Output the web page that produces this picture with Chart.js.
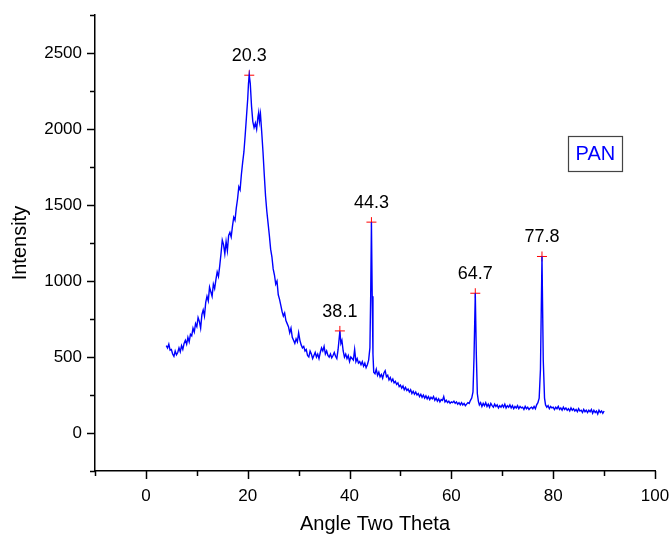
<!DOCTYPE html>
<html>
<head>
<meta charset="utf-8">
<title>PAN XRD</title>
<script src="https://cdn.jsdelivr.net/npm/chart.js@4.4.1/dist/chart.umd.min.js"></script>
<style>
    html, body { margin: 0; padding: 0; background: #fff; }
    #wrap { width: 669px; height: 536px; }
</style>
</head>
<body>
<div id="wrap"><canvas id="xrdChart" width="669" height="536"></canvas></div>
<script>
// diffraction pattern
const angles = [
    4.0, 4.25, 4.5, 4.75, 5.0, 5.25, 5.5, 5.75, 6.0, 6.25, 6.5, 6.75, 7.0, 7.25, 7.5, 7.75,
    8.0, 8.25, 8.5, 8.75, 9.0, 9.25, 9.5, 9.75, 10.0, 10.25, 10.5, 10.75, 11.0, 11.25, 11.5, 11.75,
    12.0, 12.25, 12.5, 12.75, 13.0, 13.25, 13.5, 13.75, 14.0, 14.25, 14.5, 14.75, 15.0, 15.25, 15.5, 15.75,
    16.0, 16.25, 16.5, 16.75, 17.0, 17.25, 17.5, 17.75, 18.0, 18.25, 18.5, 18.75, 19.0, 19.25, 19.5, 19.75,
    20.0, 20.15, 20.3, 20.5, 20.75, 21.0, 21.25, 21.5, 21.75, 22.0, 22.15, 22.3, 22.5, 22.75,
    23.0, 23.25, 23.5, 23.75, 24.0, 24.25, 24.5, 24.75, 25.0, 25.25, 25.5, 25.75,
    26.0, 26.25, 26.5, 26.75, 27.0, 27.25, 27.5, 27.75, 28.0, 28.25, 28.5, 28.75, 29.0, 29.25, 29.5, 29.75,
    30.0, 30.25, 30.5, 30.75, 31.0, 31.25, 31.5, 31.75, 32.0, 32.25, 32.5, 32.75, 33.0, 33.25, 33.5, 33.75,
    34.0, 34.25, 34.5, 34.75, 35.0, 35.25, 35.5, 35.75, 36.0, 36.25, 36.5, 36.75, 37.0, 37.25, 37.5, 37.75,
    38.1, 38.3, 38.5, 38.75, 39.0, 39.25, 39.5, 39.75, 40.0, 40.25, 40.5, 40.75, 41.0, 41.25, 41.5, 41.75,
    42.0, 42.25, 42.5, 42.75, 43.0, 43.25, 43.5, 43.75, 44.0, 44.15, 44.3, 44.45, 44.6, 44.75,
    45.0, 45.25, 45.5, 45.75, 46.0, 46.25, 46.5, 46.75, 47.0, 47.25, 47.5, 47.75,
    48.0, 48.25, 48.5, 48.75, 49.0, 49.25, 49.5, 49.75, 50.0, 50.25, 50.5, 50.75, 51.0, 51.25, 51.5, 51.75,
    52.0, 52.25, 52.5, 52.75, 53.0, 53.25, 53.5, 53.75, 54.0, 54.25, 54.5, 54.75, 55.0, 55.25, 55.5, 55.75,
    56.0, 56.25, 56.5, 56.75, 57.0, 57.25, 57.5, 57.75, 58.0, 58.25, 58.5, 58.75, 59.0, 59.25, 59.5, 59.75,
    60.0, 60.25, 60.5, 60.75, 61.0, 61.25, 61.5, 61.75, 62.0, 62.25, 62.5, 62.75, 63.0, 63.25, 63.5, 63.75,
    64.0, 64.25, 64.45, 64.7, 64.9, 65.1, 65.3, 65.5, 65.75,
    66.0, 66.25, 66.5, 66.75, 67.0, 67.25, 67.5, 67.75, 68.0, 68.25, 68.5, 68.75, 69.0, 69.25, 69.5, 69.75,
    70.0, 70.25, 70.5, 70.75, 71.0, 71.25, 71.5, 71.75, 72.0, 72.25, 72.5, 72.75, 73.0, 73.25, 73.5, 73.75,
    74.0, 74.25, 74.5, 74.75, 75.0, 75.25, 75.5, 75.75, 76.0, 76.25, 76.5, 76.75, 77.0, 77.25, 77.5, 77.8,
    78.05, 78.3, 78.5, 78.75, 79.0, 79.25, 79.5, 79.75, 80.0, 80.25, 80.5, 80.75, 81.0, 81.25, 81.5, 81.75,
    82.0, 82.25, 82.5, 82.75, 83.0, 83.25, 83.5, 83.75, 84.0, 84.25, 84.5, 84.75, 85.0, 85.25, 85.5, 85.75,
    86.0, 86.25, 86.5, 86.75, 87.0, 87.25, 87.5, 87.75, 88.0, 88.25, 88.5, 88.75, 89.0, 89.25, 89.5, 89.75, 90.0
];
const intensity = [
    575, 560, 585, 545, 550, 520, 505, 540, 515, 530, 560, 535, 575, 550, 590, 610,
    585, 630, 600, 650, 640, 690, 665, 720, 700, 760, 735, 690, 780, 810, 770, 860,
    900, 870, 960, 930, 900, 980, 950, 1010, 1060, 1030, 1100, 1180, 1270, 1240, 1180, 1260,
    1200, 1300, 1320, 1290, 1360, 1420, 1400, 1480, 1540, 1620, 1600, 1700, 1780, 1850, 1960, 2080,
    2200, 2300, 2355, 2300, 2150, 2050, 2010, 2040, 2000, 2080, 2110, 2050, 2100, 1980,
    1850, 1700, 1560, 1460, 1380, 1300, 1210, 1160, 1080, 1040, 980, 1000,
    910, 880, 840, 800, 770, 790, 740, 720, 700, 660, 690, 630, 610, 590, 620, 600,
    660, 610, 580, 560, 570, 540, 550, 510, 500, 540, 520, 490, 510, 530, 500, 520,
    490, 530, 560, 540, 570, 520, 540, 510, 500, 520, 495, 510, 530, 505, 490, 550,
    670, 590, 610, 540, 500, 520, 490, 510, 470, 500, 490, 480, 550, 470, 490, 460,
    470, 450, 470, 440, 460, 430, 450, 480, 560, 900, 1388, 900, 520, 400,
    390, 420, 380, 400, 370, 385, 360, 395, 410, 370, 380, 350,
    365, 340, 355, 330, 340, 320, 330, 305, 315, 295, 310, 285, 300, 280, 290, 270,
    285, 260, 275, 255, 270, 250, 260, 240, 255, 235, 250, 230, 245, 225, 240, 220,
    235, 225, 240, 215, 230, 210, 225, 205, 220, 215, 240, 205, 215, 200, 210, 195,
    205, 200, 210, 195, 205, 190, 200, 185, 200, 185, 195, 180, 190, 200, 195, 215,
    230, 270, 500, 920, 520, 260, 210, 185, 200,
    175, 195, 180, 200, 175, 190, 170, 195, 180, 170, 190, 175, 185, 165, 180, 170,
    185, 170, 190, 165, 180, 170, 185, 165, 180, 160, 175, 165, 180, 160, 175, 165,
    170, 155, 175, 160, 170, 155, 165, 170, 160, 175, 160, 185, 200, 230, 420, 1162,
    480, 230, 185, 170, 180, 160, 175, 165, 170, 155, 170, 160, 175, 155, 165, 150,
    170, 155, 165, 150, 160, 145, 165, 150, 160, 145, 155, 140, 160, 145, 150, 135,
    155, 140, 150, 135, 150, 140, 155, 130, 150, 135, 145, 125, 150, 135, 145, 130, 145
];

// labelled peaks
const peakAngles = [20.3, 38.1, 44.3, 64.7, 77.8];
const peakIntensity = [2355, 672, 1388, 920, 1162];
const peakLabels = ['20.3', '38.1', '44.3', '64.7', '77.8'];

const seriesName = 'PAN';

const fontFamily = "'Liberation Sans', Arial, sans-serif";

// outward ticks, long at labelled values, short in between
const tickMarks = {
    id: 'tickMarks',
    afterDraw(chart) {
        const ctx = chart.ctx;
        const x = chart.scales.x;
        const y = chart.scales.y;
        ctx.save();
        ctx.strokeStyle = '#000';
        ctx.lineWidth = 1.5;
        x.ticks.forEach(t => {
            const px = Math.round(x.getPixelForValue(t.value)) + 0.5;
            const len = t.value % 20 === 0 ? 8 : 5;
            ctx.beginPath();
            ctx.moveTo(px, x.top);
            ctx.lineTo(px, x.top + len);
            ctx.stroke();
        });
        y.ticks.forEach(t => {
            const py = Math.round(y.getPixelForValue(t.value)) + 0.5;
            const len = t.value % 500 === 0 ? 8 : 5;
            ctx.beginPath();
            ctx.moveTo(y.right, py);
            ctx.lineTo(y.right - len, py);
            ctx.stroke();
        });
        ctx.restore();
    }
};

// peak position text above the red markers
const peakText = {
    id: 'peakText',
    afterDatasetsDraw(chart) {
        const ctx = chart.ctx;
        const meta = chart.getDatasetMeta(1);
        ctx.save();
        ctx.font = '18px ' + fontFamily;
        ctx.fillStyle = '#000';
        ctx.textAlign = 'center';
        ctx.textBaseline = 'middle';
        meta.data.forEach((pt, i) => {
            ctx.fillText(peakLabels[i], pt.x, pt.y - 19);
        });
        ctx.restore();
    }
};

// boxed series name on the right
const nameBox = {
    id: 'nameBox',
    afterDraw(chart) {
        const ctx = chart.ctx;
        const cx = chart.scales.x.getPixelForValue(88.3);
        const cy = chart.scales.y.getPixelForValue(1840);
        ctx.save();
        ctx.font = '20px ' + fontFamily;
        const w = 54, h = 35;
        ctx.strokeStyle = '#444';
        ctx.lineWidth = 1.2;
        ctx.strokeRect(Math.round(cx - w / 2) + 0.5, Math.round(cy - h / 2) + 0.5, w, h);
        ctx.fillStyle = '#0000ff';
        ctx.textAlign = 'center';
        ctx.textBaseline = 'middle';
        ctx.fillText(seriesName, cx, cy + 1);
        ctx.restore();
    }
};

const points = angles.map((a, i) => ({ x: a, y: intensity[i] }));
const peaks = peakAngles.map((a, i) => ({ x: a, y: peakIntensity[i] }));

const xrdctx = document.getElementById('xrdChart').getContext('2d');
const xrdChart = new Chart(xrdctx, {
    type: 'scatter',
    data: {
        datasets: [{
            label: seriesName,
            data: points,
            showLine: true,
            borderColor: '#0000ff',
            borderWidth: 1.4,
            pointRadius: 0,
            tension: 0
        }, {
            label: 'peaks',
            data: peaks,
            showLine: false,
            pointStyle: 'cross',
            pointRadius: 5,
            borderColor: '#ff0000',
            backgroundColor: '#ff0000',
            borderWidth: 1
        }]
    },
    options: {
        responsive: false,
        devicePixelRatio: 1,
        animation: false,
        layout: {
            padding: { top: 8, right: 0, left: 0, bottom: 0 }
        },
        plugins: {
            legend: { display: false },
            tooltip: { enabled: false }
        },
        scales: {
            x: {
                type: 'linear',
                min: -10,
                max: 100,
                afterFit: scale => {
                    scale.height = 65;
                    scale.paddingLeft = 0;
                    scale.paddingRight = 14;
                },
                border: { display: true, color: '#000', width: 1.5 },
                grid: { display: false },
                ticks: {
                    stepSize: 10,
                    padding: 7,
                    color: '#000',
                    font: { family: fontFamily, size: 17 },
                    maxRotation: 0,
                    autoSkip: false,
                    callback: v => (v % 20 === 0 ? v : '')
                },
                title: {
                    display: true,
                    text: 'Angle Two Theta',
                    color: '#000',
                    font: { family: fontFamily, size: 20 },
                    padding: { top: 0, bottom: 0 }
                }
            },
            y: {
                type: 'linear',
                min: -250,
                max: 2750,
                afterFit: scale => { scale.width = 95; },
                border: { display: true, color: '#000', width: 1.5 },
                grid: { display: false },
                ticks: {
                    stepSize: 250,
                    padding: 5,
                    color: '#000',
                    font: { family: fontFamily, size: 17 },
                    autoSkip: false,
                    callback: v => (v % 500 === 0 ? v : '')
                },
                title: {
                    display: true,
                    text: 'Intensity',
                    color: '#000',
                    font: { family: fontFamily, size: 20 },
                    padding: { top: 8, bottom: 0 }
                }
            }
        }
    },
    plugins: [tickMarks, peakText, nameBox]
});
</script>
</body>
</html>
